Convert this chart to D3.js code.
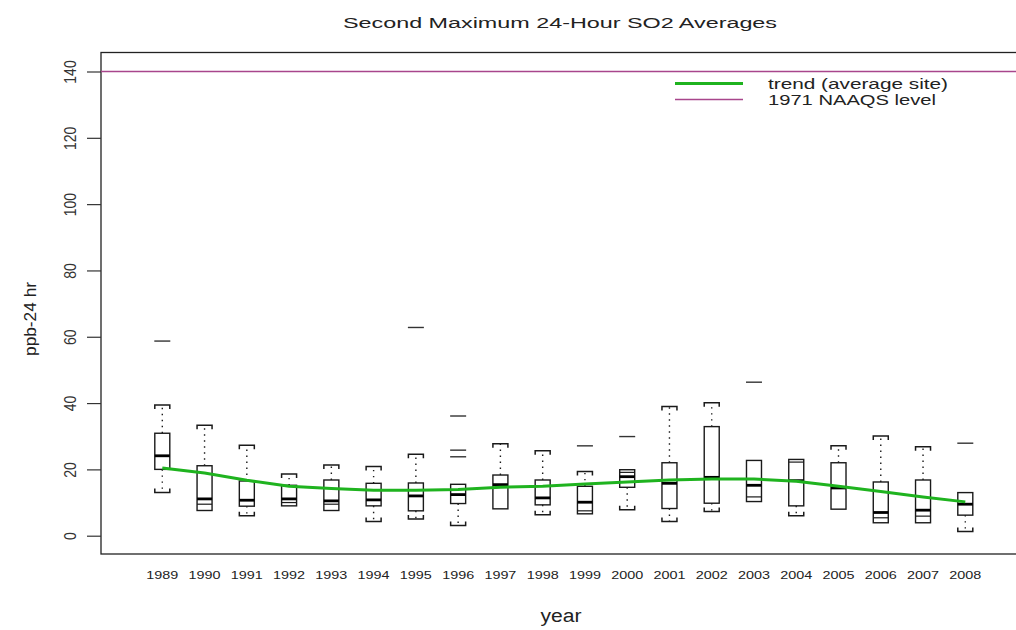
<!DOCTYPE html>
<html>
<head>
<meta charset="utf-8">
<script src="https://cdn.jsdelivr.net/npm/d3@7/dist/d3.min.js"></script>
<style>
  html, body { margin: 0; padding: 0; background: #fff; }
  svg { display: block; font-family: "Liberation Sans", Arial, sans-serif; }
</style>
</head>
<body>
<svg id="chart" width="1016" height="630"></svg>
<script>
// Second maximum 24-hour SO2 values (ppb) across sites, 1989-2008
const years = ["1989","1990","1991","1992","1993","1994","1995","1996","1997","1998",
               "1999","2000","2001","2002","2003","2004","2005","2006","2007","2008"];
const whiskerLow  = [13.0, 9.5, 6.0, 10.0, 9.5, 4.3, 5.0, 3.1, 8.1, 6.3,
                     7.5, 7.8, 4.3, 7.3, 11.7, 6.0, 8.0, 5.4, 5.9, 1.3];
const lowerQuart  = [20.0, 7.6, 8.9, 9.0, 7.6, 9.0, 7.5, 9.7, 8.1, 9.3,
                     6.6, 14.6, 8.2, 9.8, 10.3, 9.0, 8.0, 3.9, 3.9, 6.2];
const medians     = [24.1, 11.1, 10.7, 11.1, 10.5, 10.8, 12.0, 12.4, 15.4, 11.4,
                     10.1, 17.8, 15.8, 17.6, 15.2, 16.6, 14.4, 7.0, 7.7, 9.5];
const upperQuart  = [30.9, 21.1, 16.5, 15.2, 16.8, 15.8, 15.9, 15.5, 18.3, 16.8,
                     14.9, 19.9, 22.0, 32.9, 22.7, 23.0, 22.0, 16.2, 16.8, 13.0];
const whiskerHigh = [39.4, 33.3, 27.3, 18.6, 21.3, 20.9, 24.6, 15.5, 27.7, 25.6,
                     19.4, 19.1, 39.0, 40.1, 22.7, 22.2, 27.1, 30.1, 26.8, 13.0];
const outliers    = [[58.7], [], [], [], [], [], [62.8], [36.1, 25.8, 23.8], [], [],
                     [27.1], [29.9], [], [], [46.3], [], [], [], [], [27.9]];
// trend for the average site
const trend       = [20.4, 18.9, 16.7, 14.9, 14.2, 13.7, 13.7, 13.9, 14.6, 14.9,
                     15.6, 16.2, 16.8, 17.1, 17.1, 16.4, 14.9, 13.3, 11.7, 10.2];
const naaqsLevel = 140;
const yTicks = [0, 20, 40, 60, 80, 100, 120, 140];

const svg = d3.select("#chart");
const frame = { left: 101, right: 1022, top: 52.5, bottom: 554 };

const x = d3.scalePoint().domain(years).range([162.3, 965.3]);
const y = d3.scaleLinear().domain([0, 140]).range([535.7, 71.5]);

const boxW = 15;
const ink = "#1a1a1a";

// plot frame
svg.append("rect")
  .attr("x", frame.left).attr("y", frame.top)
  .attr("width", frame.right - frame.left).attr("height", frame.bottom - frame.top)
  .attr("fill", "none").attr("stroke", "#222").attr("stroke-width", 1.3);

// y axis on the left edge of the frame
const yAxis = d3.axisLeft(y).tickValues(yTicks).tickSize(14).tickFormat("");
const gy = svg.append("g").attr("transform", `translate(${frame.left},0)`).call(yAxis);
gy.select(".domain").remove();
gy.selectAll(".tick line").attr("stroke", "#333").attr("stroke-width", 1.2);
gy.selectAll(".tick").append("text")
  .attr("transform", "translate(-25,0) scale(1.15,1) rotate(-90)")
  .attr("text-anchor", "middle")
  .attr("fill", "#333")
  .style("font-size", "14px")
  .text(d => d);

// x category labels
svg.append("g").selectAll("text").data(years).join("text")
  .attr("x", d => x(d)).attr("y", 578.5)
  .attr("text-anchor", "middle")
  .attr("textLength", 32).attr("lengthAdjust", "spacingAndGlyphs")
  .attr("fill", "#222")
  .style("font-size", "11px")
  .text(d => d);

// NAAQS reference line
svg.append("line")
  .attr("x1", frame.left).attr("x2", 1016)
  .attr("y1", y(naaqsLevel)).attr("y2", y(naaqsLevel))
  .attr("stroke", "#a8468c").attr("stroke-width", 1.3);

// boxes
const stats = years.map((yr, i) => ({
  yr, lo: whiskerLow[i], q1: lowerQuart[i], med: medians[i], q3: upperQuart[i],
  hi: whiskerHigh[i], out: outliers[i]
}));

const g = svg.append("g");
stats.forEach(s => {
  const cx = x(s.yr);
  const gb = g.append("g");
  const half = boxW / 2;
  // whiskers (dotted) and bracket staples beyond the box
  if (s.hi > s.q3) {
    gb.append("line").attr("x1", cx).attr("x2", cx)
      .attr("y1", y(s.q3)).attr("y2", y(s.hi))
      .attr("stroke", ink).attr("stroke-width", 1.4).attr("stroke-dasharray", "1.4,4.6");
    gb.append("path")
      .attr("d", `M${cx - half},${y(s.hi) + 4} V${y(s.hi)} H${cx + half} V${y(s.hi) + 4}`)
      .attr("fill", "none").attr("stroke", ink).attr("stroke-width", 1.5);
  } else if (s.hi < s.q3) {
    gb.append("line").attr("x1", cx - half).attr("x2", cx + half)
      .attr("y1", y(s.hi)).attr("y2", y(s.hi))
      .attr("stroke", ink).attr("stroke-width", 1.2);
  }
  if (s.lo < s.q1) {
    gb.append("line").attr("x1", cx).attr("x2", cx)
      .attr("y1", y(s.q1)).attr("y2", y(s.lo))
      .attr("stroke", ink).attr("stroke-width", 1.4).attr("stroke-dasharray", "1.4,4.6");
    gb.append("path")
      .attr("d", `M${cx - half},${y(s.lo) - 4} V${y(s.lo)} H${cx + half} V${y(s.lo) - 4}`)
      .attr("fill", "none").attr("stroke", ink).attr("stroke-width", 1.5);
  } else if (s.lo > s.q1) {
    gb.append("line").attr("x1", cx - half).attr("x2", cx + half)
      .attr("y1", y(s.lo)).attr("y2", y(s.lo))
      .attr("stroke", ink).attr("stroke-width", 1.2);
  }
  // box
  gb.append("rect")
    .attr("x", cx - half).attr("y", y(s.q3))
    .attr("width", boxW).attr("height", y(s.q1) - y(s.q3))
    .attr("fill", "none").attr("stroke", ink).attr("stroke-width", 1.4);
  // median
  gb.append("line").attr("x1", cx - half).attr("x2", cx + half)
    .attr("y1", y(s.med)).attr("y2", y(s.med))
    .attr("stroke", "#000").attr("stroke-width", 2.8);
  // outliers drawn as short dashes
  gb.selectAll(".out").data(s.out).join("line").attr("class", "out")
    .attr("x1", cx - 8).attr("x2", cx + 8)
    .attr("y1", d => y(d)).attr("y2", d => y(d))
    .attr("stroke", "#333").attr("stroke-width", 1.4);
});

// trend line
const line = d3.line().x((d, i) => x(years[i])).y(d => y(d));
svg.append("path").datum(trend)
  .attr("d", line)
  .attr("fill", "none").attr("stroke", "#1fb31f").attr("stroke-width", 3);

// legend
const legend = svg.append("g");
legend.append("line").attr("x1", 675).attr("x2", 743).attr("y1", 83.5).attr("y2", 83.5)
  .attr("stroke", "#1fb31f").attr("stroke-width", 3);
legend.append("line").attr("x1", 675).attr("x2", 743).attr("y1", 99.5).attr("y2", 99.5)
  .attr("stroke", "#a8468c").attr("stroke-width", 1.3);
legend.append("text").attr("x", 768).attr("y", 89)
  .attr("textLength", 180).attr("lengthAdjust", "spacingAndGlyphs")
  .attr("fill", "#222").style("font-size", "14.5px")
  .text("trend (average site)");
legend.append("text").attr("x", 768).attr("y", 105)
  .attr("textLength", 168).attr("lengthAdjust", "spacingAndGlyphs")
  .attr("fill", "#222").style("font-size", "14.5px")
  .text("1971 NAAQS level");

// titles
svg.append("text").attr("x", 560).attr("y", 28)
  .attr("text-anchor", "middle")
  .attr("textLength", 434).attr("lengthAdjust", "spacingAndGlyphs")
  .attr("fill", "#222").style("font-size", "14px")
  .text("Second Maximum 24-Hour SO2 Averages");
svg.append("text").attr("x", 561).attr("y", 622)
  .attr("text-anchor", "middle")
  .attr("textLength", 41).attr("lengthAdjust", "spacingAndGlyphs")
  .attr("fill", "#222").style("font-size", "18px")
  .text("year");
svg.append("text")
  .attr("transform", "translate(36,319) rotate(-90)")
  .attr("text-anchor", "middle")
  .attr("textLength", 74).attr("lengthAdjust", "spacingAndGlyphs")
  .attr("fill", "#222").style("font-size", "17px")
  .text("ppb-24 hr");
</script>
</body>
</html>
